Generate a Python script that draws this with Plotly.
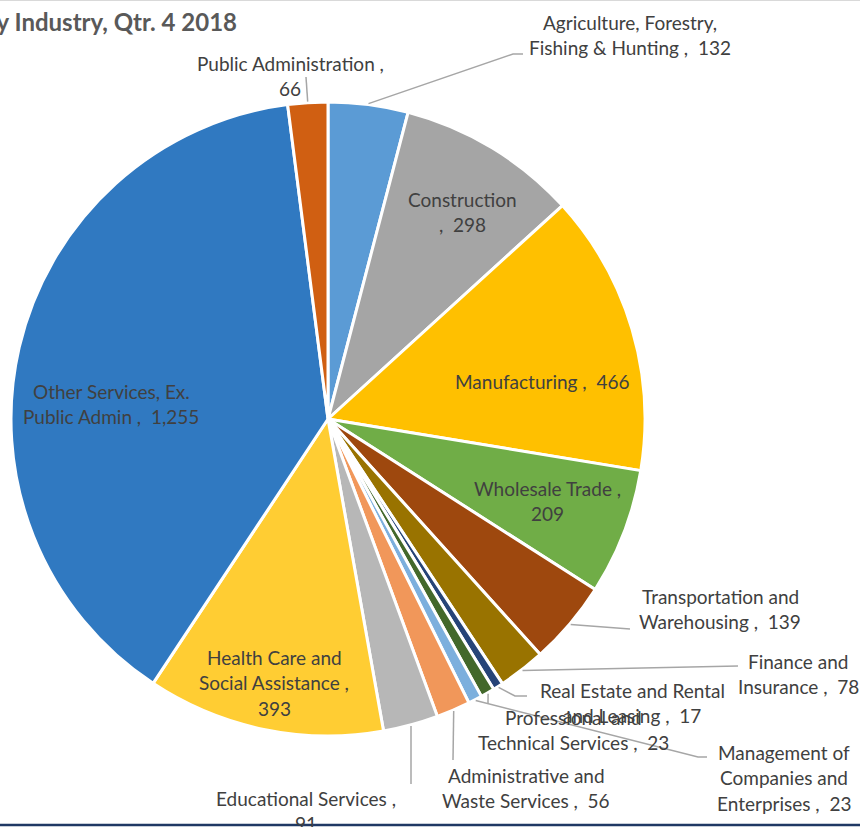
import math
import plotly.graph_objects as go

# ---------------- data ----------------
industries = [
    "Agriculture, Forestry, Fishing & Hunting", "Construction", "Manufacturing",
    "Wholesale Trade", "Transportation and Warehousing", "Finance and Insurance",
    "Real Estate and Rental and Leasing", "Professional and Technical Services",
    "Management of Companies and Enterprises", "Administrative and Waste Services",
    "Educational Services", "Health Care and Social Assistance",
    "Other Services, Ex. Public Admin", "Public Administration",
]
employment = [132, 298, 466, 209, 139, 78, 17, 23, 23, 56, 91, 393, 1255, 66]

# label text split into lines (as the reference wraps them)
label_lines = [
    ["Agriculture, Forestry,", "Fishing & Hunting ,  {v}"],
    ["Construction", ",  {v}"],
    ["Manufacturing ,  {v}"],
    ["Wholesale Trade ,", "{v}"],
    ["Transportation and", "Warehousing ,  {v}"],
    ["Finance and", "Insurance ,  {v}"],
    ["Real Estate and Rental", "and Leasing ,  {v}"],
    ["Professional and", "Technical Services ,  {v}"],
    ["Management of", "Companies and", "Enterprises ,  {v}"],
    ["Administrative and", "Waste Services ,  {v}"],
    ["Educational Services ,", "{v}"],
    ["Health Care and", "Social Assistance ,", "{v}"],
    ["Other Services, Ex.", "Public Admin ,  {v}"],
    ["Public Administration ,", "{v}"],
]

colors = ["#5B9BD5", "#A5A5A5", "#FFC000", "#70AD47", "#9E480E", "#997300",
          "#264478", "#43682B", "#7CAFDD", "#F1975A", "#B7B7B7", "#FFCD33",
          "#3079C1", "#D05F12"]

# ---------------- layout (pixels) ----------------
W, H = 860, 827
CX, CY, R = 328, 419, 317
LINE_H = 25.5
FONT = "Lato, Calibri, sans-serif"

# label anchor (center x, first-line center y)
label_pos = [(630, 22), (462, 199), (542, 381), (547, 488), (720, 596), (798, 661),
             (632, 690), (573, 717), (784, 752), (526, 775), (306, 798), (274, 657),
             (111, 391), (290, 63)]
# leader line waypoints after the slice-edge start point (None = no leader)
leaders = [[(513, 54), (523, 54)], None, None, None, [(630, 629)], [(738, 666)],
           [(515, 696), (527, 696)], [(488, 704)], [(698, 757), (707, 757)],
           [(453, 760)], [(411, 784)], None, None, [(306, 77)]]

fig = go.Figure()
fig.add_trace(go.Pie(
    labels=industries, values=employment, sort=False, direction="clockwise",
    rotation=0, textinfo="none", hoverinfo="label+value",
    marker=dict(colors=colors, line=dict(color="white", width=3)),
    domain=dict(x=[(CX - R) / W, (CX + R) / W], y=[1 - (CY + R) / H, 1 - (CY - R) / H]),
    showlegend=False,
))
# invisible pixel-coordinate axes for labels/leaders
fig.add_trace(go.Scatter(x=[0, W], y=[0, H], mode="markers",
                         marker=dict(opacity=0), hoverinfo="skip", showlegend=False))

total = sum(employment)
cum = 0
annotations = []
shapes = []
for i, v in enumerate(employment):
    mid = (cum + v / 2) / total * 2 * math.pi
    cum += v
    lx, ly = label_pos[i]
    for k, line in enumerate(label_lines[i]):
        annotations.append(dict(
            x=lx, y=ly + k * LINE_H, xref="x", yref="y", showarrow=False,
            text=line.format(v=f"{v:,}"), xanchor="center", yanchor="middle",
            font=dict(family=FONT, size=19, color="#404040")))
    if leaders[i]:
        sx = CX + (R + 1) * math.sin(mid)
        sy = CY - (R + 1) * math.cos(mid)
        pts = [(sx, sy)] + leaders[i]
        path = "M " + " L ".join(f"{px:.1f},{py:.1f}" for px, py in pts)
        shapes.append(dict(type="path", path=path, xref="x", yref="y",
                           line=dict(color="#A6A6A6", width=1.5), layer="above"))

annotations.append(dict(
    x=239, y=21, xref="x", yref="y", showarrow=False, xanchor="right", yanchor="middle",
    text="<b>Employment by Industry, Qtr. 4 2018</b>",
    font=dict(family=FONT, size=24, color="#595959")))

shapes.append(dict(type="line", x0=0, x1=W, y0=0.5, y1=0.5, xref="x", yref="y",
                   line=dict(color="#D9D9D9", width=1), layer="above"))
shapes.append(dict(type="line", x0=0, x1=W, y0=825, y1=825, xref="x", yref="y",
                   line=dict(color="#1F3864", width=2.5), layer="above"))

fig.update_layout(
    width=W, height=H, margin=dict(l=0, r=0, t=0, b=0),
    paper_bgcolor="white", plot_bgcolor="rgba(0,0,0,0)",
    xaxis=dict(range=[0, W], visible=False, fixedrange=True),
    yaxis=dict(range=[H, 0], visible=False, fixedrange=True),
    annotations=annotations, shapes=shapes,
)
fig.write_html("out.html", config={"displayModeBar": False},
               post_script="document.body.style.margin='0';document.body.style.overflow='hidden';")
